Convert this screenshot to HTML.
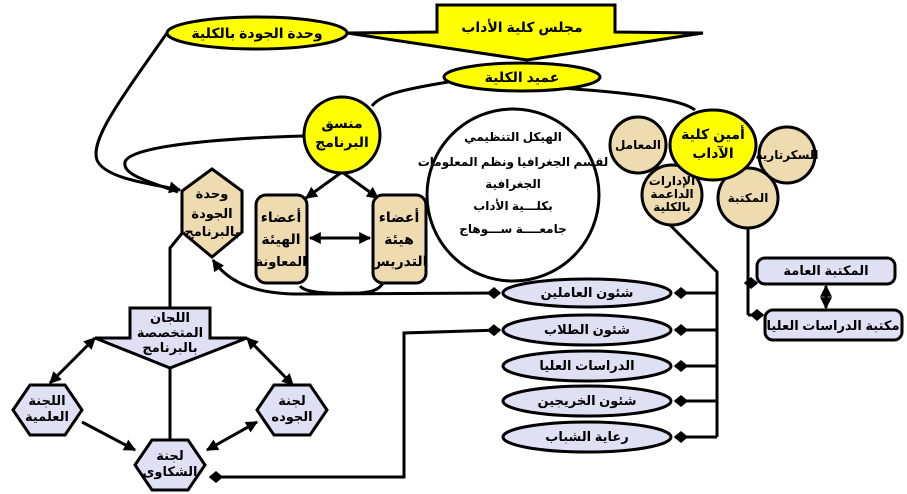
<!DOCTYPE html>
<html><head><meta charset="utf-8"><style>
html,body{margin:0;padding:0;background:#fff;width:907px;height:494px;overflow:hidden}
svg{display:block}
text{font-family:"Liberation Sans","DejaVu Sans",sans-serif;font-weight:bold;text-anchor:middle;fill:#000}
</style></head><body>
<svg width="907" height="494" viewBox="0 0 907 494" xmlns="http://www.w3.org/2000/svg">
<defs>
<marker id="a" viewBox="0 0 10 10" refX="9" refY="5" markerWidth="4" markerHeight="4" orient="auto-start-reverse"><path d="M0,0L10,5L0,10z" fill="#000"/></marker>
<marker id="d" viewBox="0 0 12 10" refX="11" refY="5" markerWidth="5" markerHeight="4" orient="auto-start-reverse"><path d="M0,5L6,0L12,5L6,10z" fill="#000"/></marker>
</defs>
<g fill="none" stroke="#000" stroke-width="3">
<path d="M167,33 C120,100 90,140 97,160 C105,180 160,185 180,190" marker-end="url(#a)"/>
<path d="M304,136 C230,138 130,145 125,162 C122,175 150,182 178,192" />
<path d="M448,82 C400,90 380,95 372,106"/>
<path d="M560,88 C620,92 680,98 695,110"/>
<path d="M342,172 L306,198" marker-end="url(#a)"/>
<path d="M342,172 L378,198" marker-end="url(#a)"/>
<path d="M310,238 L370,238" marker-start="url(#a)" marker-end="url(#a)"/>
<path d="M500,293 L300,294 C260,294 230,285 213,260" marker-start="url(#d)" marker-end="url(#a)"/>
<path d="M300,286 C305,292 320,294 360,293 C375,292 380,288 383,283"/>
<path d="M667,222 L717,272 L717,437"/>
<path d="M717,293 L675,293" marker-end="url(#d)"/>
<path d="M717,330 L675,330" marker-end="url(#d)"/>
<path d="M717,366 L675,366" marker-end="url(#d)"/>
<path d="M717,401 L675,401" marker-end="url(#d)"/>
<path d="M717,437 L675,437" marker-end="url(#d)"/>
<path d="M500,330 L404,333 L404,477 L210,477" marker-start="url(#d)" marker-end="url(#d)"/>
<path d="M748,228 L748,315"/>
<path d="M748,283 L757,283" marker-end="url(#d)"/>
<path d="M748,315 L763,315" marker-end="url(#d)"/>
<path d="M826,286 L826,308" marker-start="url(#a)" marker-end="url(#a)"/>
<path d="M183,232 L170,248 L170,308"/>
<path d="M95,338 L50,383" marker-start="url(#a)" marker-end="url(#a)"/>
<path d="M247,338 L293,385" marker-start="url(#a)" marker-end="url(#a)"/>
<path d="M170,368 L170,440"/>
<path d="M82,422 L135,450" marker-end="url(#a)"/>
<path d="M207,450 L257,422" marker-start="url(#a)" marker-end="url(#a)"/>
</g>
<g stroke="#000" stroke-width="3">
<polygon points="437,5 615,5 615,32 703,33 527,60 347,33 437,32" fill="#ffff00"/>
<ellipse cx="257" cy="33" rx="90" ry="16" fill="#ffff00"/>
<ellipse cx="522" cy="77" rx="78" ry="14" fill="#ffff00"/>
<circle cx="342" cy="135" r="38" fill="#ffff00"/>
<polygon points="212,169 242,191 242,232 212,257 182,232 182,191" fill="#eedcb0"/>
<rect x="256" y="195" width="51" height="88" rx="10" fill="#eedcb0"/>
<rect x="373" y="195" width="53" height="88" rx="10" fill="#eedcb0"/>
<circle cx="513" cy="195" r="86" fill="#fff"/>
<circle cx="638" cy="145" r="28" fill="#eedcb0"/>
<circle cx="787" cy="155" r="28" fill="#eedcb0"/>
<circle cx="672" cy="195" r="30" fill="#eedcb0"/>
<circle cx="748" cy="198" r="30" fill="#eedcb0"/>
<ellipse cx="713" cy="145" rx="43" ry="35" fill="#ffff00"/>
<g fill="#e0e0f4">
<ellipse cx="587" cy="293" rx="84" ry="14"/>
<ellipse cx="587" cy="330" rx="84" ry="15"/>
<ellipse cx="587" cy="366" rx="84" ry="15"/>
<ellipse cx="587" cy="401" rx="84" ry="15"/>
<ellipse cx="587" cy="437" rx="84" ry="15"/>
<rect x="757" y="258" width="138" height="26" rx="8"/>
<rect x="765" y="310" width="137" height="30" rx="8"/>
<polygon points="130,308 210,308 210,338 247,338 170,368 95,338 130,338"/>
<polygon points="13,410 30,385 65,385 82,410 65,435 30,435"/>
<polygon points="257,410 274,385 310,385 327,410 310,435 274,435"/>
<polygon points="135,465 152,440 188,440 205,465 188,490 152,490"/>
</g>
</g>
<g font-size="14">
<text x="522" y="32">مجلس كلية الأداب</text>
<text x="257" y="38">وحدة الجودة بالكلية</text>
<text x="522" y="82">عميد الكلية</text>
<text x="342" y="128">منسق</text>
<text x="342" y="147">البرنامج</text>
<text x="212" y="198" font-size="13">وحدة</text>
<text x="212" y="218" font-size="13">الجودة</text>
<text x="212" y="236" font-size="13">بالبرنامج</text>
<text x="281" y="222">أعضاء</text>
<text x="281" y="244">الهيئة</text>
<text x="281" y="266" font-size="13">المعاونة</text>
<text x="399" y="222">أعضاء</text>
<text x="399" y="244">هيئة</text>
<text x="399" y="266">التدريس</text>
<text x="713" y="139">أمين كلية</text>
<text x="713" y="158">الآداب</text>
</g>
<g font-size="12">
<text x="513" y="141">الهيكل التنظيمي</text>
<text x="513" y="166">لقسم الجغرافيا ونظم المعلومات</text>
<text x="513" y="188">الجغرافية</text>
<text x="513" y="210">بكلـــية الأداب</text>
<text x="513" y="233">جامعــــة ســـوهاج</text>
<text x="638" y="149">المعامل</text>
<text x="787" y="159">السكرتارية</text>
<text x="672" y="185">الإدارات</text>
<text x="672" y="198">الداعمة</text>
<text x="672" y="211">بالكلية</text>
<text x="748" y="202">المكتبة</text>
</g>
<g font-size="13">
<text x="587" y="297" font-weight="normal">شئون العاملين</text>
<text x="587" y="334" font-weight="normal">شئون الطلاب</text>
<text x="587" y="370" font-weight="normal">الدراسات العليا</text>
<text x="587" y="405" font-weight="normal">شئون الخريجين</text>
<text x="587" y="441" font-weight="normal">رعاية الشباب</text>
<text x="826" y="275" font-weight="normal">المكتبة العامة</text>
<text x="833" y="330" font-weight="normal">مكتبة الدراسات العليا</text>
<text x="170" y="322" font-weight="normal">اللجان</text>
<text x="170" y="337" font-weight="normal">المتخصصة</text>
<text x="170" y="352" font-weight="normal">بالبرنامج</text>
<text x="47" y="405" font-weight="normal">اللجنة</text>
<text x="47" y="421" font-weight="normal">العلمية</text>
<text x="292" y="405" font-weight="normal">لجنة</text>
<text x="292" y="421" font-weight="normal">الجوده</text>
<text x="170" y="460" font-weight="normal">لجنة</text>
<text x="170" y="476" font-weight="normal">الشكاوى</text>
</g>
</svg>
</body></html>
